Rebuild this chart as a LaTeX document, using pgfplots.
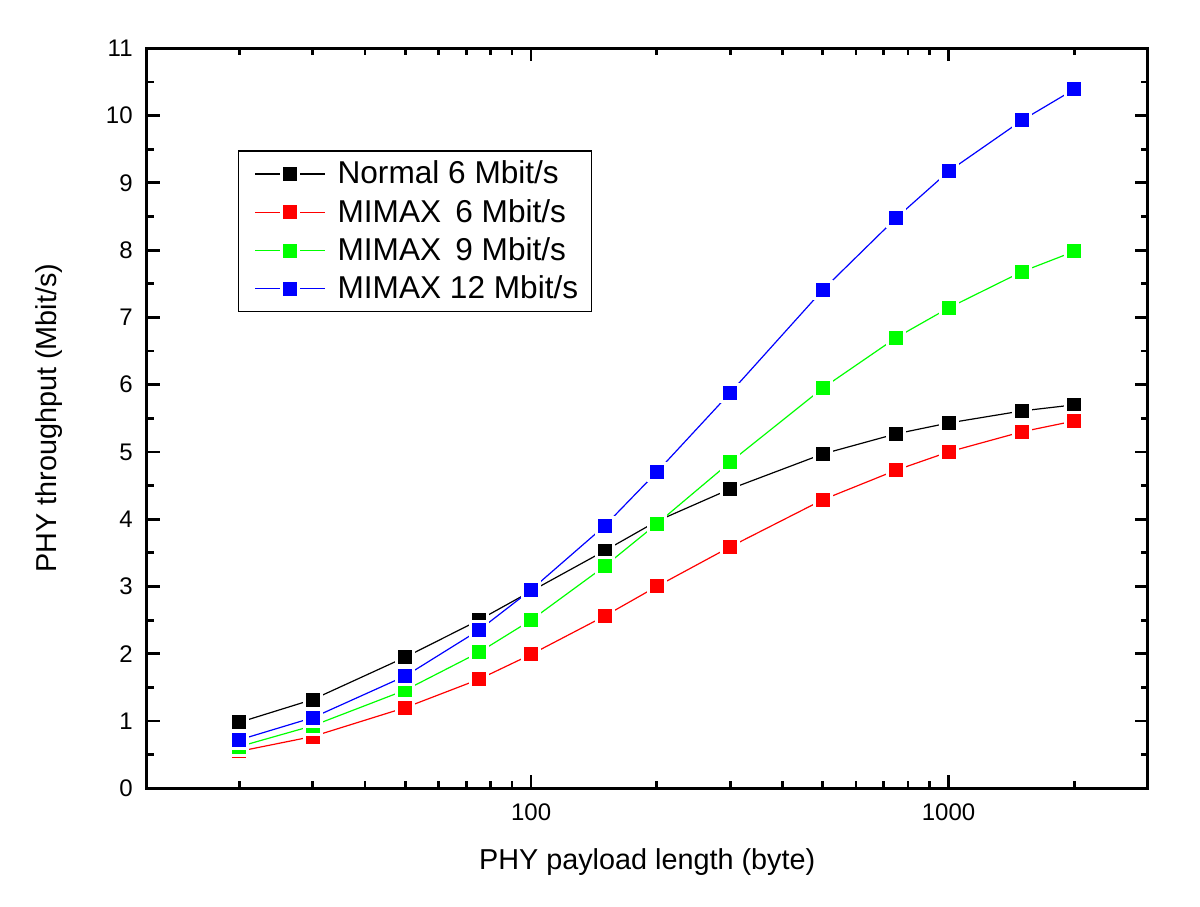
\documentclass[border=0pt]{standalone}
\usepackage{fontspec}
\setmainfont{Liberation Sans}
\usepackage{pgfplots}
\pgfplotsset{compat=1.18}

\begin{document}
\begin{tikzpicture}
\useasboundingbox (0pt,0pt) rectangle (600pt,453pt);
\begin{axis}[
    at={(73.35pt,58.85pt)}, anchor=south west,
    scale only axis,
    width=500.5pt, height=370pt,
    xmode=log,
    xmin=12, xmax=3000,
    ymin=0, ymax=11,
    xtick={100,1000},
    xticklabels={100,1000},
    minor xtick={20,30,40,50,60,70,80,90,200,300,400,500,600,700,800,900,2000},
    ytick={0,1,2,3,4,5,6,7,8,9,10,11},
    minor y tick num=1,
    tick align=inside,
    major tick length=6.5pt,
    minor tick length=3.5pt,
    axis line style={line width=1.5pt},
    every tick/.style={black, line width=1.4pt},
    /pgf/number format/assume math mode=true,
    tick label style={font=\fontsize{12}{14}\selectfont},
    xticklabel style={yshift=-4pt},
    yticklabel style={xshift=-3.5pt},
    xlabel={PHY payload length (byte)},
    ylabel={PHY throughput (Mbit/s)},
    every axis x label/.style={at={(axis description cs:0.5,0)}, anchor=center,
        yshift=-37pt, font=\fontsize{14.4}{17}\selectfont},
    every axis y label/.style={at={(axis description cs:0,0.5)}, anchor=center,
        rotate=90, yshift=49pt, font=\fontsize{14.4}{17}\selectfont},
    legend style={at={(axis description cs:0.091,0.862)}, anchor=north west,
        draw=black, line width=0.6pt, font=\fontsize{15.8}{19}\selectfont,
        row sep=2.2pt, inner xsep=4.5pt, inner ysep=3pt},
    legend cell align={left},
    legend image code/.code={
        \path (-3.5pt,0pt) (39pt,0pt);
        \draw[mark repeat=2,mark phase=2,#1] plot coordinates {(0pt,0pt) (17.5pt,0pt) (35pt,0pt)};
    },
    every axis plot/.append style={line width=0.6pt, mark=square*, mark size=4.25pt},
]

\addplot[black, mark options={solid, draw=white, line width=1.5pt, fill=black}] coordinates {
(20,0.98) (30,1.32) (50,1.95) (75,2.50) (100,2.93) (150,3.53) (200,3.97)
(300,4.45) (500,4.97) (750,5.27) (1000,5.43) (1500,5.61) (2000,5.70)
};
\addlegendentry{Normal 6 Mbit/s}

\addplot[red, mark options={solid, draw=white, line width=1.5pt, fill=red}] coordinates {
(20,0.55) (30,0.77) (50,1.20) (75,1.62) (100,1.99) (150,2.56) (200,3.00)
(300,3.59) (500,4.29) (750,4.73) (1000,5.00) (1500,5.30) (2000,5.46)
};
\addlegendentry{MIMAX\hspace{0.45em}6 Mbit/s}

\addplot[green, mark options={solid, draw=white, line width=1.5pt, fill=green}] coordinates {
(20,0.62) (30,0.93) (50,1.46) (75,2.02) (100,2.50) (150,3.30) (200,3.93)
(300,4.85) (500,5.95) (750,6.70) (1000,7.14) (1500,7.68) (2000,7.98)
};
\addlegendentry{MIMAX\hspace{0.45em}9 Mbit/s}

\addplot[blue, mark options={solid, draw=white, line width=1.5pt, fill=blue}] coordinates {
(20,0.72) (30,1.05) (50,1.67) (75,2.35) (100,2.95) (150,3.90) (200,4.70)
(300,5.88) (500,7.41) (750,8.48) (1000,9.17) (1500,9.93) (2000,10.39)
};
\addlegendentry{MIMAX 12 Mbit/s}

\end{axis}
\end{tikzpicture}
\end{document}
